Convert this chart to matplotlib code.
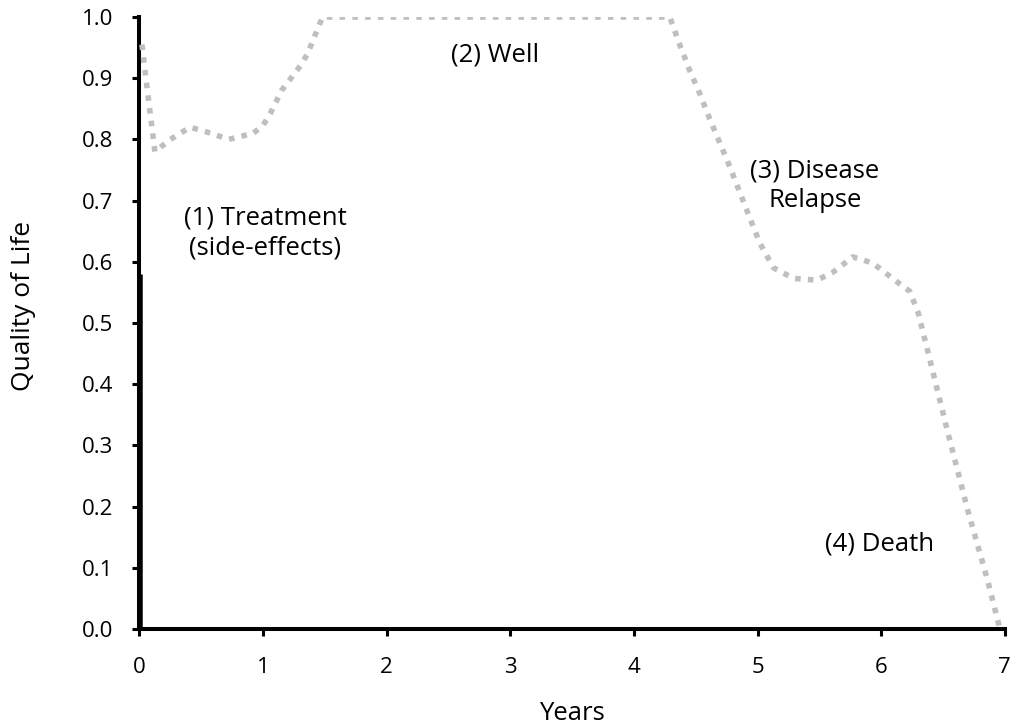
import matplotlib
matplotlib.use("Agg")
import matplotlib.pyplot as plt

plt.rcParams['font.family'] = ['Open Sans', 'DejaVu Sans']

# Quality of life curve (years, QoL)
years = [0.02, 0.07, 0.125, 0.25, 0.41, 0.58, 0.72, 0.92, 1.0, 1.06, 1.15, 1.30,
         1.36, 1.43, 1.48, 4.29, 4.37, 4.45, 4.53, 4.61, 4.78, 4.94, 5.02, 5.08,
         5.13, 5.29, 5.48, 5.61, 5.77, 5.93, 6.13, 6.23, 6.30, 6.38, 6.54, 6.70,
         6.86, 6.96]
qol = [0.955, 0.87, 0.78, 0.80, 0.82, 0.81, 0.80, 0.81, 0.823, 0.843, 0.88, 0.92,
       0.94, 0.975, 1.0, 1.0, 0.955, 0.913, 0.876, 0.835, 0.753, 0.67, 0.63, 0.608,
       0.59, 0.573, 0.57, 0.583, 0.608, 0.598, 0.567, 0.552, 0.516, 0.451, 0.32, 0.194,
       0.08, 0.0]

# black marker at time zero
spike_x = [0.014, 0.014]
spike_y = [0.0, 0.58]

xticks = [0, 1, 2, 3, 4, 5, 6, 7]
yticks = [0.0, 0.1, 0.2, 0.3, 0.4, 0.5, 0.6, 0.7, 0.8, 0.9, 1.0]

labels = ["(1) Treatment\n(side-effects)", "(2) Well", "(3) Disease\nRelapse", "(4) Death"]
label_x = [1.015, 2.876, 5.465, 5.99]
label_y = [0.647, 0.938, 0.724, 0.139]

fig = plt.figure(figsize=(10.15, 7.28), dpi=100)
ax = fig.add_axes([0.1374, 0.136, 0.8526, 0.8406])

ax.plot(years, qol, color='#bfbfbf', lw=4, dashes=(1.0, 1.3),
        dash_capstyle='butt', solid_capstyle='butt', zorder=3)
ax.plot(spike_x, spike_y, color='black', lw=1.8, zorder=4, clip_on=False,
        solid_capstyle='butt')

ax.set_xlim(0, 7)
ax.set_ylim(0, 1.0)
ax.set_xticks(xticks)
ax.set_xticklabels([str(t) for t in xticks])
ax.set_yticks(yticks)
ax.set_yticklabels([f"{t:.1f}" for t in yticks])

for s in ['top', 'right']:
    ax.spines[s].set_visible(False)
for s in ['left', 'bottom']:
    ax.spines[s].set_linewidth(2.9)
    ax.spines[s].set_color('black')
    ax.spines[s].set_capstyle('projecting')

ax.tick_params(axis='both', direction='out', length=5, width=2.2,
               labelsize=16, colors='black')
ax.tick_params(axis='y', pad=14)
ax.tick_params(axis='x', pad=15)

ax.set_xlabel("Years", fontsize=18.5, labelpad=17)
ax.set_ylabel("Quality of Life", fontsize=19)
ax.yaxis.set_label_coords(-0.12, 0.528)

for t, x, y in zip(labels, label_x, label_y):
    ax.text(x, y, t, ha='center', va='center', fontsize=18.5, linespacing=1.25)

fig.savefig("out.png", dpi=100)
